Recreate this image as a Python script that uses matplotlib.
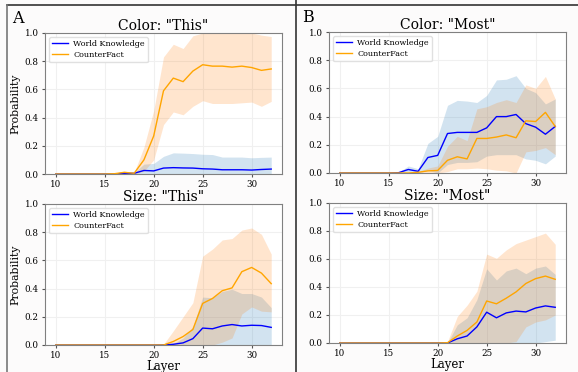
import matplotlib.pyplot as plt
from matplotlib.lines import Line2D

plt.rcParams['font.family'] = ['DejaVu Serif']

layers = list(range(10, 33))

# Color: "This"
ct_wk = [0, 0, 0, 0, 0, 0, 0, 0.005, 0.005, 0.025, 0.022, 0.042, 0.045, 0.043, 0.042, 0.037,
         0.035, 0.03, 0.03, 0.03, 0.028, 0.032, 0.035]
ct_wk_lo = [0] * 23
ct_wk_hi = [0, 0, 0, 0, 0, 0, 0, 0.01, 0.01, 0.07, 0.075, 0.125, 0.15, 0.148, 0.145, 0.14,
            0.138, 0.12, 0.12, 0.12, 0.115, 0.118, 0.12]
ct_cf = [0, 0, 0, 0, 0, 0, 0.002, 0.012, 0.005, 0.1, 0.27, 0.59, 0.68, 0.655, 0.73, 0.775,
         0.765, 0.765, 0.758, 0.765, 0.755, 0.735, 0.745]
ct_cf_lo = [0, 0, 0, 0, 0, 0, 0, 0.004, 0, 0.02, 0.1, 0.35, 0.44, 0.42, 0.48, 0.52,
            0.5, 0.5, 0.5, 0.505, 0.51, 0.48, 0.515]
ct_cf_hi = [0, 0, 0, 0, 0, 0, 0.005, 0.02, 0.01, 0.19, 0.45, 0.83, 0.92, 0.89, 0.98, 1.0,
            1.0, 1.0, 1.0, 1.0, 1.0, 0.985, 0.975]

# Color: "Most"
cm_wk = [0, 0, 0, 0, 0, 0, 0.002, 0.025, 0.012, 0.11, 0.125, 0.28, 0.288, 0.288, 0.288, 0.32,
         0.40, 0.40, 0.415, 0.35, 0.325, 0.275, 0.33]
cm_wk_lo = [0, 0, 0, 0, 0, 0, 0, 0.005, 0, 0.02, 0.0, 0.06, 0.075, 0.075, 0.08, 0.12,
            0.13, 0.13, 0.13, 0.1, 0.09, 0.065, 0.12]
cm_wk_hi = [0, 0, 0, 0, 0, 0, 0.005, 0.05, 0.03, 0.21, 0.26, 0.48, 0.515, 0.51, 0.5, 0.55,
            0.66, 0.665, 0.69, 0.6, 0.57, 0.49, 0.525]
cm_cf = [0, 0, 0, 0, 0, 0, 0, 0, 0.005, 0.015, 0.018, 0.09, 0.115, 0.1, 0.245, 0.245,
         0.255, 0.27, 0.25, 0.37, 0.365, 0.43, 0.33]
cm_cf_lo = [0, 0, 0, 0, 0, 0, 0, 0, 0, 0, 0, 0.01, 0.03, 0.03, 0.035, 0.03,
            0.02, 0.015, 0.0, 0.15, 0.16, 0.18, 0.13]
cm_cf_hi = [0, 0, 0, 0, 0, 0, 0, 0, 0.01, 0.035, 0.05, 0.19, 0.26, 0.23, 0.455, 0.47,
            0.5, 0.52, 0.5, 0.625, 0.6, 0.685, 0.525]

# Size: "This"
st_wk = [0, 0, 0, 0, 0, 0, 0, 0, 0, 0, 0, 0, 0.005, 0.015, 0.045, 0.12,
         0.115, 0.135, 0.145, 0.135, 0.14, 0.138, 0.125]
st_wk_lo = [0] * 23
st_wk_hi = [0, 0, 0, 0, 0, 0, 0, 0, 0, 0, 0, 0, 0.01, 0.05, 0.13, 0.34,
            0.335, 0.38, 0.395, 0.365, 0.365, 0.34, 0.265]
st_cf = [0, 0, 0, 0, 0, 0, 0, 0, 0, 0, 0, 0, 0.025, 0.06, 0.11, 0.295,
         0.33, 0.385, 0.405, 0.52, 0.55, 0.51, 0.435]
st_cf_lo = [0, 0, 0, 0, 0, 0, 0, 0, 0, 0, 0, 0, 0, 0, 0, 0,
            0, 0.02, 0.05, 0.22, 0.27, 0.24, 0.235]
st_cf_hi = [0, 0, 0, 0, 0, 0, 0, 0, 0, 0, 0, 0.005, 0.1, 0.2, 0.3, 0.63,
            0.68, 0.745, 0.755, 0.815, 0.83, 0.785, 0.645]

# Size: "Most"
sm_wk = [0, 0, 0, 0, 0, 0, 0, 0, 0, 0, 0, 0, 0.03, 0.05, 0.115, 0.22,
         0.18, 0.215, 0.228, 0.222, 0.25, 0.265, 0.255]
sm_wk_lo = [0, 0, 0, 0, 0, 0, 0, 0, 0, 0, 0, 0, 0, 0, 0, 0,
            0, 0, 0, 0, 0, 0.01, 0.02]
sm_wk_hi = [0, 0, 0, 0, 0, 0, 0, 0, 0, 0, 0, 0, 0.13, 0.18, 0.31, 0.53,
            0.45, 0.515, 0.535, 0.495, 0.535, 0.55, 0.49]
sm_cf = [0, 0, 0, 0, 0, 0, 0, 0, 0, 0, 0, 0.002, 0.05, 0.09, 0.15, 0.30,
         0.28, 0.32, 0.365, 0.425, 0.46, 0.478, 0.455]
sm_cf_lo = [0, 0, 0, 0, 0, 0, 0, 0, 0, 0, 0, 0, 0, 0, 0, 0,
            0, 0, 0.01, 0.115, 0.15, 0.165, 0.2]
sm_cf_hi = [0, 0, 0, 0, 0, 0, 0, 0, 0, 0, 0.01, 0.01, 0.19, 0.27, 0.37, 0.635,
            0.605, 0.665, 0.71, 0.735, 0.76, 0.785, 0.705]

W, H = 578, 372
fig = plt.figure(figsize=(W / 100, H / 100), dpi=100, facecolor='#fcfbfb')


def px_axes(x0, y0, x1, y1):
    return fig.add_axes([x0 / W, 1 - y1 / H, (x1 - x0) / W, (y1 - y0) / H])


panels = [
    ((45, 33, 282, 174), 'Color: "This"', ct_wk, ct_wk_lo, ct_wk_hi, ct_cf, ct_cf_lo, ct_cf_hi, True, False),
    ((329, 32, 566, 173), 'Color: "Most"', cm_wk, cm_wk_lo, cm_wk_hi, cm_cf, cm_cf_lo, cm_cf_hi, False, False),
    ((45, 204, 282, 345), 'Size: "This"', st_wk, st_wk_lo, st_wk_hi, st_cf, st_cf_lo, st_cf_hi, True, True),
    ((329, 203, 566, 343), 'Size: "Most"', sm_wk, sm_wk_lo, sm_wk_hi, sm_cf, sm_cf_lo, sm_cf_hi, False, True),
]

for box, title, wk, wk_lo, wk_hi, cf, cf_lo, cf_hi, ylab, xlab in panels:
    ax = px_axes(*box)
    ax.fill_between(layers, wk_lo, wk_hi, color='tab:blue', alpha=0.2, linewidth=0)
    ax.fill_between(layers, cf_lo, cf_hi, color='tab:orange', alpha=0.2, linewidth=0)
    ax.plot(layers, wk, color='blue', linewidth=1.0, label='World Knowledge')
    ax.plot(layers, cf, color='orange', linewidth=1.0, label='CounterFact')
    ax.set_ylim(0, 1.0)
    ax.set_xticks([10, 15, 20, 25, 30])
    ax.set_yticks([0, 0.2, 0.4, 0.6, 0.8, 1.0])
    ax.tick_params(labelsize=6.3, length=2.5, color='#555555', pad=2)
    ax.grid(True, color='#f0f0f0', linewidth=0.8)
    ax.set_axisbelow(True)
    for s in ax.spines.values():
        s.set_color('#808080')
    ax.set_title(title, fontsize=10, pad=2)
    if ylab:
        ax.set_ylabel('Probability', fontsize=7.8, labelpad=3)
    if xlab:
        ax.set_xlabel('Layer', fontsize=8.5, labelpad=0)
    ax.legend(loc='upper left', fontsize=5.8, handlelength=1.9, borderpad=0.4,
              labelspacing=0.35, handletextpad=0.7, framealpha=0.9, edgecolor='#dddddd')

# panel frames and labels
fig.add_artist(Line2D([7 / W, 1], [1 - 5 / H, 1 - 5 / H], color='#333333', linewidth=1.2))
fig.add_artist(Line2D([7 / W, 7 / W], [0, 1 - 5 / H], color='#777777', linewidth=1.2))
fig.add_artist(Line2D([295.5 / W, 295.5 / W], [0, 1], color='#333333', linewidth=1.2))
fig.text(12 / W, 1 - 23 / H, 'A', fontsize=11.5)
fig.text(302 / W, 1 - 22 / H, 'B', fontsize=11.5)

fig.savefig('out.png', dpi=100, facecolor=fig.get_facecolor())
